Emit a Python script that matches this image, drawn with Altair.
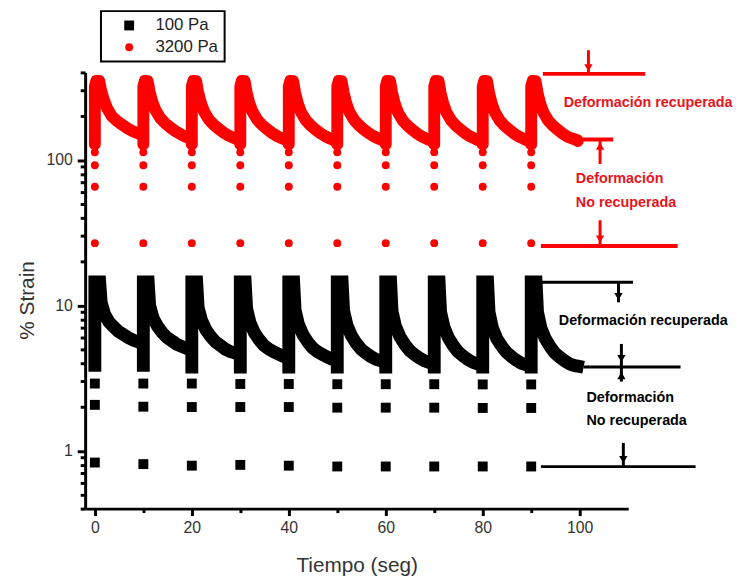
import altair as alt
import pandas as pd

# ---------------- data ----------------
cycle_start = [0, 10, 20, 30, 40, 50, 60, 70, 80, 90]

# 100 Pa : isolated squares at the start of each cycle
black_low_a = [0.83, 0.81, 0.79, 0.80, 0.79, 0.78, 0.78, 0.78, 0.78, 0.78]
black_low_b = [2.07, 2.01, 2.0, 2.0, 2.0, 1.98, 1.98, 1.98, 1.97, 1.97]
black_low_c = [2.9, 2.9, 2.9, 2.88, 2.88, 2.87, 2.87, 2.87, 2.86, 2.86]
# 100 Pa : dense part of each cycle (time offset from cycle start, strain)
black_offsets = [0.0, 0.0, 1.0, 1.3, 2.0, 2.9, 3.9, 4.9, 5.9, 6.9, 8.0, 9.0, 9.6]
black_cycles = [
    [3.5, 14.5, 14.5, 10.5, 8.7, 7.7, 7.1, 6.6, 6.3, 6.0, 5.75, 5.6, 5.45],
    [3.5, 14.5, 14.5, 10.0, 8.2, 7.2, 6.5, 6.0, 5.7, 5.4, 5.2, 5.05, 5.0],
    [3.4, 14.5, 14.5, 9.7, 7.9, 6.8, 6.1, 5.6, 5.3, 5.0, 4.8, 4.7, 4.65],
    [3.4, 14.5, 14.5, 9.5, 7.6, 6.5, 5.8, 5.3, 5.0, 4.8, 4.6, 4.45, 4.4],
    [3.4, 14.5, 14.5, 9.3, 7.4, 6.3, 5.6, 5.1, 4.8, 4.6, 4.4, 4.25, 4.2],
    [3.4, 14.5, 14.5, 9.2, 7.3, 6.2, 5.5, 5.0, 4.7, 4.45, 4.25, 4.15, 4.1],
    [3.4, 14.5, 14.5, 9.1, 7.2, 6.1, 5.4, 4.9, 4.6, 4.35, 4.15, 4.05, 4.0],
    [3.4, 14.5, 14.5, 9.0, 7.1, 6.0, 5.3, 4.8, 4.5, 4.25, 4.05, 3.95, 3.9],
    [3.4, 14.5, 14.5, 9.0, 7.0, 5.9, 5.25, 4.75, 4.45, 4.2, 4.0, 3.9, 3.85],
    [3.4, 14.5, 14.5, 9.0, 7.0, 5.9, 5.2, 4.7, 4.4, 4.15, 3.95, 3.85, 3.82],
]
black_tail_t = [100.8]
black_tail_v = [3.75]

# 3200 Pa : isolated circles at the start of each cycle
red_low_a = [26.8, 26.8, 26.8, 26.8, 26.8, 26.8, 26.8, 26.8, 26.8, 26.8]
red_low_b = [65.5, 65.5, 65.5, 65.5, 65.5, 65.5, 65.5, 65.5, 65.5, 65.5]
red_low_c = [92, 92, 92, 92, 92, 92, 92, 92, 92, 92]
red_low_d = [113, 113, 113, 113, 113, 113, 113, 113, 113, 113]
red_offsets = [0.0, 0.0, 0.3, 0.9, 1.3, 1.8, 2.5, 3.5, 4.5, 5.6, 6.6, 7.6, 8.6, 9.5]
red_cycles = [
    [128, 320, 350, 350, 300, 262, 228, 200, 186, 175, 166, 159, 154, 150],
    [128, 320, 350, 348, 295, 254, 220, 194, 179, 167, 158, 151, 145, 141],
    [128, 320, 350, 348, 293, 251, 216, 190, 175, 163, 154, 147, 142, 138],
    [128, 320, 350, 348, 293, 250, 215, 189, 174, 162, 153, 146, 141, 137],
    [128, 320, 350, 348, 292, 249, 214, 188, 173, 161, 152, 145, 140, 136],
    [128, 320, 350, 348, 292, 249, 214, 188, 173, 161, 152, 145, 140, 136],
    [128, 320, 350, 348, 291, 248, 213, 187, 172, 160, 151, 144, 139, 135],
    [128, 320, 350, 348, 291, 248, 213, 187, 172, 160, 151, 144, 139, 135],
    [128, 320, 350, 348, 291, 248, 213, 187, 172, 160, 151, 144, 139, 135],
    [128, 320, 350, 348, 291, 248, 213, 187, 172, 160, 151, 144, 140, 137],
]
red_tail_t = [99.6]
red_tail_v = [135]

series_names = ["100 Pa", "3200 Pa"]
series_colors = ["#000000", "#ff0000"]
series_shapes = ["square", "circle"]
series_sizes = [100, 64]

# annotation (dimension lines, arrows, texts) in data units
ann_t1 = [92.4, 99.4, 92.0, 92.0, 100.8, 92.0]
ann_t2 = [113.5, 106.9, 120.2, 111.0, 120.8, 123.9]
ann_v = [391, 138.3, 25.6, 14.4, 3.77, 0.778]
ann_color = ["#ff0000", "#ff0000", "#ff0000", "#000000", "#000000", "#000000"]
ann_width = [4, 4, 4, 3, 3, 3]

shaft_t = [101.8, 104.2, 104.2, 108.0, 108.6, 109.0]
shaft_v1 = [569, 93.9, 38.5, 14.4, 5.43, 1.133]
shaft_v2 = [391, 138.3, 25.6, 10.5, 2.99, 0.778]
shaft_color = ["#ff0000", "#ff0000", "#ff0000", "#000000", "#000000", "#000000"]

head_t = [101.8, 104.2, 104.2, 108.0, 108.6, 108.6, 109.0]
head_v = [430, 124.5, 28.6, 11.5, 4.3, 3.29, 0.869]
head_shape = ["triangle-down", "triangle-up", "triangle-down", "triangle-down",
              "triangle-down", "triangle-up", "triangle-down"]
head_color = ["#ff0000", "#ff0000", "#ff0000", "#000000", "#000000", "#000000", "#000000"]

text_c_t = [114.1, 113.1]
text_c_v = [245.5, 7.82]
text_c_label = ["Deformación recuperada", "Deformación recuperada"]
text_c_color = ["#e8141c", "#000000"]

text_l_t = [99.2, 99.2, 101.4, 101.4]
text_l_v = [74.3, 50.2, 2.294, 1.592]
text_l_label = ["Deformación", "No recuperada", "Deformación", "No recuperada"]
text_l_color = ["#e8141c", "#e8141c", "#000000", "#000000"]

x_ticks = [0, 10, 20, 30, 40, 50, 60, 70, 80, 90, 100]
y_ticks = [0.4, 0.5, 0.6, 0.7, 0.8, 0.9, 1, 2, 3, 4, 5, 6, 7, 8, 9,
           10, 20, 30, 40, 50, 60, 70, 80, 90, 100, 200, 300, 400]

# ---------------- tables ----------------
pts = []
for i, t0 in enumerate(cycle_start):
    for arr in (black_low_a, black_low_b, black_low_c):
        pts.append({"t": t0, "v": arr[i], "series": "100 Pa"})
    for arr in (red_low_a, red_low_b, red_low_c, red_low_d):
        pts.append({"t": t0, "v": arr[i], "series": "3200 Pa"})
pts_df = pd.DataFrame(pts)


def curve_rows(offsets, cycles, tail_t, tail_v):
    rows = []
    for i, t0 in enumerate(cycle_start):
        k = 0
        for off, v in zip(offsets, cycles[i]):
            rows.append({"t": t0 + off, "v": v, "cycle": i, "k": k})
            k += 1
        if i == len(cycle_start) - 1:
            for tt, vv in zip(tail_t, tail_v):
                rows.append({"t": tt, "v": vv, "cycle": i, "k": k})
                k += 1
    return pd.DataFrame(rows)


black_df = curve_rows(black_offsets, black_cycles, black_tail_t, black_tail_v)
red_df = curve_rows(red_offsets, red_cycles, red_tail_t, red_tail_v)

lines_df = pd.DataFrame({"t": ann_t1, "t2": ann_t2, "v": ann_v, "c": ann_color, "w": ann_width})
shaft_df = pd.DataFrame({"t": shaft_t, "v": shaft_v1, "v2": shaft_v2, "c": shaft_color})
head_df = pd.DataFrame({"t": head_t, "v": head_v, "s": head_shape, "c": head_color})
textc_df = pd.DataFrame({"t": text_c_t, "v": text_c_v, "label": text_c_label, "c": text_c_color})
textl_df = pd.DataFrame({"t": text_l_t, "v": text_l_v, "label": text_l_label, "c": text_l_color})

# ---------------- scales & axes ----------------
FONT = "Liberation Sans"
xs = alt.Scale(domain=[-2, 110], nice=False, zero=False)
ys = alt.Scale(type="log", domain=[0.4, 400], nice=False)

x_axis = alt.Axis(
    values=x_ticks,
    labelExpr="datum.value % 20 == 0 ? datum.label : ''",
    tickSize={"condition": {"test": "datum.value % 20 == 0", "value": 7}, "value": 4},
    title="Tiempo (seg)", grid=False,
    domainColor="black", domainWidth=3, tickColor="black", tickWidth=3,
    labelFont=FONT, labelFontSize=16, labelColor="#333333", labelPadding=4,
    titleFont=FONT, titleFontSize=21, titleFontWeight="normal", titleColor="#333333",
    titlePadding=20,
)
y_axis = alt.Axis(
    values=y_ticks,
    labelExpr="datum.value == 1 ? '1' : datum.value == 10 ? '10' : datum.value == 100 ? '100' : ''",
    tickSize={"condition": {"test": "datum.value == 1 || datum.value == 10 || datum.value == 100",
                            "value": 8}, "value": 5},
    title="% Strain", grid=False,
    domainColor="black", domainWidth=3, tickColor="black", tickWidth=3,
    labelFont=FONT, labelFontSize=16, labelColor="#333333", labelPadding=5,
    titleFont=FONT, titleFontSize=21, titleFontWeight="normal", titleColor="#333333",
    titlePadding=9, titleY=230,
)

X = lambda f="t": alt.X(f"{f}:Q", scale=xs, axis=x_axis, title="Tiempo (seg)")
Y = lambda f="v": alt.Y(f"{f}:Q", scale=ys, axis=y_axis, title="% Strain")

# ---------------- layers ----------------
black_line = alt.Chart(black_df).mark_line(
    color="black", strokeWidth=13, strokeJoin="miter", strokeCap="butt"
).encode(x=X(), y=Y(), detail="cycle:N", order="k:Q")

red_line = alt.Chart(red_df).mark_line(
    color="#ff0000", strokeWidth=12, strokeJoin="round", strokeCap="round"
).encode(x=X(), y=Y(), detail="cycle:N", order="k:Q")

points = alt.Chart(pts_df).mark_point(filled=True, opacity=1, strokeWidth=0).encode(
    x=X(), y=Y(),
    color=alt.Color(
        "series:N",
        scale=alt.Scale(domain=series_names, range=series_colors),
        legend=alt.Legend(
            title=None, orient="none", legendX=16, legendY=-62,
            labelFont=FONT, labelFontSize=17, labelColor="#222222",
            padding=6, symbolOffset=14, labelOffset=18, rowPadding=4,
            strokeColor="black",
        ),
    ),
    shape=alt.Shape("series:N", scale=alt.Scale(domain=series_names, range=series_shapes)),
    size=alt.Size("series:N", scale=alt.Scale(domain=series_names, range=series_sizes)),
)

rules = alt.Chart(lines_df).mark_rule().encode(
    x=X(), x2="t2:Q", y=Y(),
    color=alt.Color("c:N", scale=None),
    strokeWidth=alt.StrokeWidth("w:Q", scale=None),
)

shafts = alt.Chart(shaft_df).mark_rule(strokeWidth=3).encode(
    x=X(), y=Y(), y2="v2:Q",
    color=alt.Color("c:N", scale=None),
)

heads = alt.Chart(head_df).mark_point(filled=True, opacity=1, size=70, strokeWidth=0).encode(
    x=X(), y=Y(),
    shape=alt.Shape("s:N", scale=None),
    color=alt.Color("c:N", scale=None),
)

texts_c = alt.Chart(textc_df).mark_text(
    font=FONT, fontSize=14.5, fontWeight="bold", align="center", baseline="middle"
).encode(x=X(), y=Y(), text="label:N", color=alt.Color("c:N", scale=None))

texts_l = alt.Chart(textl_df).mark_text(
    font=FONT, fontSize=14.5, fontWeight="bold", align="left", baseline="middle"
).encode(x=X(), y=Y(), text="label:N", color=alt.Color("c:N", scale=None))

chart = alt.layer(
    black_line, red_line, points, rules, shafts, heads, texts_c, texts_l
).properties(
    width=549, height=441,
    autosize=alt.AutoSizeParams(type="none"),
    padding={"left": 78, "top": 62, "right": 109, "bottom": 70},
    background="white",
).configure_view(
    stroke=None
).configure_legend(
    strokeWidth=2
)

chart.save("out.html", embed_options={"renderer": "svg", "actions": False})
